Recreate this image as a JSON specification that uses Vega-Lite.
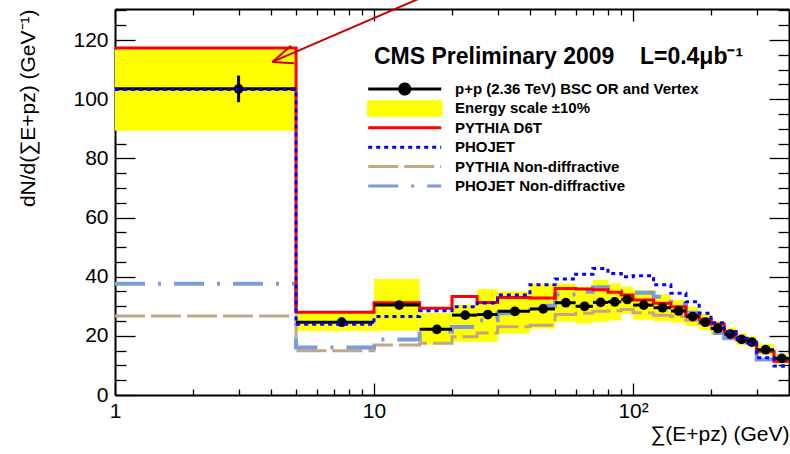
{
  "$schema": "https://vega.github.io/schema/vega-lite/v6.json",
  "width": 674,
  "height": 386,
  "autosize": {"type": "none"},
  "padding": {"left": 115, "top": 9, "right": 1, "bottom": 59},
  "background": "white",
  "config": {
    "font": "Liberation Sans",
    "view": {"stroke": null},
    "axis": {
      "grid": false,
      "domainColor": "black",
      "domainWidth": 2,
      "tickColor": "black",
      "tickWidth": 1.3,
      "labelColor": "black",
      "titleColor": "black",
      "labelFont": "Liberation Sans",
      "titleFont": "Liberation Sans",
      "titleFontWeight": "normal",
      "labelOverlap": false,
      "labelFlush": false,
      "zindex": 1
    }
  },
  "datasets": {
    "hist": [
      {"bin": 1, "x0": 1, "x1": 5, "center": 3, "data": 103.5, "err": 4.5, "band_lo": 89.3, "band_hi": 116.8, "pythia_d6t": 117.3, "phojet": 103.3, "pythia_nd": 26.7, "phojet_nd": 37.6},
      {"bin": 2, "x0": 5, "x1": 10, "center": 7.5, "data": 24.6, "err": 1.0, "band_lo": 21.6, "band_hi": 27.8, "pythia_d6t": 28.0, "phojet": 23.9, "pythia_nd": 15.0, "phojet_nd": 16.1},
      {"bin": 3, "x0": 10, "x1": 15, "center": 12.5, "data": 30.4, "err": 1.3, "band_lo": 21.7, "band_hi": 39.2, "pythia_d6t": 31.2, "phojet": 26.5, "pythia_nd": 16.9, "phojet_nd": 18.8},
      {"bin": 4, "x0": 15, "x1": 20, "center": 17.5, "data": 22.2, "err": 1.0, "band_lo": 17.1, "band_hi": 27.7, "pythia_d6t": 29.3, "phojet": 28.5, "pythia_nd": 17.5, "phojet_nd": 21.5},
      {"bin": 5, "x0": 20, "x1": 25, "center": 22.5, "data": 27.0, "err": 1.0, "band_lo": 18.0, "band_hi": 30.5, "pythia_d6t": 33.3, "phojet": 29.8, "pythia_nd": 19.7, "phojet_nd": 23.0},
      {"bin": 6, "x0": 25, "x1": 30, "center": 27.5, "data": 27.2, "err": 1.0, "band_lo": 18.0, "band_hi": 35.8, "pythia_d6t": 31.3, "phojet": 31.1, "pythia_nd": 21.0, "phojet_nd": 25.3},
      {"bin": 7, "x0": 30, "x1": 40, "center": 35, "data": 28.3, "err": 0.8, "band_lo": 20.8, "band_hi": 35.0, "pythia_d6t": 33.0, "phojet": 33.8, "pythia_nd": 23.1, "phojet_nd": 27.6},
      {"bin": 8, "x0": 40, "x1": 50, "center": 45, "data": 29.1, "err": 0.8, "band_lo": 22.5, "band_hi": 37.5, "pythia_d6t": 32.8, "phojet": 37.3, "pythia_nd": 23.6, "phojet_nd": 30.2},
      {"bin": 9, "x0": 50, "x1": 60, "center": 55, "data": 31.2, "err": 0.8, "band_lo": 24.8, "band_hi": 37.7, "pythia_d6t": 36.0, "phojet": 39.2, "pythia_nd": 27.2, "phojet_nd": 34.0},
      {"bin": 10, "x0": 60, "x1": 70, "center": 65, "data": 30.0, "err": 0.8, "band_lo": 24.2, "band_hi": 36.6, "pythia_d6t": 35.8, "phojet": 40.8, "pythia_nd": 27.6, "phojet_nd": 34.9},
      {"bin": 11, "x0": 70, "x1": 80, "center": 75, "data": 31.3, "err": 0.8, "band_lo": 24.8, "band_hi": 38.9, "pythia_d6t": 35.6, "phojet": 42.8, "pythia_nd": 28.3, "phojet_nd": 36.4},
      {"bin": 12, "x0": 80, "x1": 90, "center": 85, "data": 31.5, "err": 0.8, "band_lo": 25.2, "band_hi": 37.7, "pythia_d6t": 34.7, "phojet": 41.1, "pythia_nd": 28.5, "phojet_nd": 35.2},
      {"bin": 13, "x0": 90, "x1": 100, "center": 95, "data": 32.3, "err": 0.8, "band_lo": 27.4, "band_hi": 36.6, "pythia_d6t": 33.8, "phojet": 40.0, "pythia_nd": 28.9, "phojet_nd": 34.6},
      {"bin": 14, "x0": 100, "x1": 120, "center": 110, "data": 30.4, "err": 0.7, "band_lo": 25.5, "band_hi": 35.5, "pythia_d6t": 32.1, "phojet": 40.3, "pythia_nd": 27.8, "phojet_nd": 34.6},
      {"bin": 15, "x0": 120, "x1": 140, "center": 130, "data": 29.5, "err": 0.7, "band_lo": 25.0, "band_hi": 34.0, "pythia_d6t": 31.0, "phojet": 37.3, "pythia_nd": 27.0, "phojet_nd": 33.2},
      {"bin": 16, "x0": 140, "x1": 160, "center": 150, "data": 28.4, "err": 0.7, "band_lo": 24.5, "band_hi": 32.0, "pythia_d6t": 29.8, "phojet": 34.4, "pythia_nd": 26.5, "phojet_nd": 30.8},
      {"bin": 17, "x0": 160, "x1": 180, "center": 170, "data": 26.5, "err": 0.7, "band_lo": 23.3, "band_hi": 29.8, "pythia_d6t": 26.9, "phojet": 31.5, "pythia_nd": 25.3, "phojet_nd": 27.8},
      {"bin": 18, "x0": 180, "x1": 200, "center": 190, "data": 24.6, "err": 0.6, "band_lo": 22.0, "band_hi": 27.5, "pythia_d6t": 25.6, "phojet": 27.6, "pythia_nd": 24.2, "phojet_nd": 25.3},
      {"bin": 19, "x0": 200, "x1": 225, "center": 212.5, "data": 22.5, "err": 0.6, "band_lo": 20.3, "band_hi": 25.0, "pythia_d6t": 24.0, "phojet": 24.4, "pythia_nd": 22.5, "phojet_nd": 21.0},
      {"bin": 20, "x0": 225, "x1": 250, "center": 237.5, "data": 20.6, "err": 0.6, "band_lo": 18.6, "band_hi": 22.8, "pythia_d6t": 21.5, "phojet": 21.4, "pythia_nd": 20.8, "phojet_nd": 19.2},
      {"bin": 21, "x0": 250, "x1": 275, "center": 262.5, "data": 18.8, "err": 0.6, "band_lo": 17.0, "band_hi": 20.8, "pythia_d6t": 19.2, "phojet": 19.1, "pythia_nd": 18.6, "phojet_nd": 17.6},
      {"bin": 22, "x0": 275, "x1": 300, "center": 287.5, "data": 17.9, "err": 0.6, "band_lo": 16.2, "band_hi": 19.8, "pythia_d6t": 17.8, "phojet": 17.5, "pythia_nd": 17.5, "phojet_nd": 16.5},
      {"bin": 23, "x0": 300, "x1": 350, "center": 325, "data": 15.3, "err": 0.5, "band_lo": 13.6, "band_hi": 17.2, "pythia_d6t": 14.8, "phojet": 12.6, "pythia_nd": 14.6, "phojet_nd": 12.0},
      {"bin": 24, "x0": 350, "x1": 400, "center": 375, "data": 12.4, "err": 0.5, "band_lo": 10.6, "band_hi": 13.8, "pythia_d6t": 11.4, "phojet": 9.8, "pythia_nd": 11.3, "phojet_nd": 9.8}
    ],
    "arrow": [
      {"x": 4.05, "y": 112.6, "x_end": 17.7, "y_end": 136.8},
      {"x": 4.05, "y": 112.6, "x_end": 4.78, "y_end": 118.1},
      {"x": 4.05, "y": 112.6, "x_end": 4.91, "y_end": 112.2}
    ]
  },
  "layer": [
    {
      "data": {"name": "hist"},
      "mark": {"type": "rect"},
      "encoding": {
        "x": {
          "field": "x0", "type": "quantitative",
          "scale": {"type": "log", "domain": [1, 400], "nice": false},
          "axis": {
            "orient": "bottom",
            "values": [1, 2, 3, 4, 5, 6, 7, 8, 9, 10, 20, 30, 40, 50, 60, 70, 80, 90, 100, 200, 300],
            "labelExpr": "datum.value === 1 ? '1' : datum.value === 10 ? '10' : datum.value === 100 ? '10²' : ''",
            "tickSize": {"condition": {"test": "datum.value === 1 || datum.value === 10 || datum.value === 100", "value": -12}, "value": -6},
            "labelFontSize": 21,
            "labelPadding": 17,
            "title": "∑(E+pz) (GeV)",
            "titleFontSize": 21,
            "titleAnchor": "end",
            "titlePadding": -4
          }
        },
        "x2": {"field": "x1"},
        "y": {
          "field": "band_lo", "type": "quantitative",
          "scale": {"domain": [0, 130.5], "nice": false, "zero": false},
          "axis": {
            "orient": "left",
            "values": [0, 5, 10, 15, 20, 25, 30, 35, 40, 45, 50, 55, 60, 65, 70, 75, 80, 85, 90, 95, 100, 105, 110, 115, 120, 125, 130],
            "labelExpr": "datum.value % 20 === 0 ? format(datum.value, 'd') : ''",
            "tickSize": {"condition": {"test": "datum.value % 20 === 0", "value": -20}, "value": -11},
            "labelFontSize": 21,
            "labelPadding": 27,
            "title": "dN/d(∑E+pz) (GeV⁻¹)",
            "titleFontSize": 21,
            "titleAnchor": "end",
            "titlePadding": 34
          }
        },
        "y2": {"field": "band_hi"},
        "color": {
          "datum": "Energy scale ±10%",
          "type": "nominal",
          "scale": {
            "domain": ["p+p (2.36 TeV) BSC OR and Vertex", "Energy scale ±10%", "PYTHIA D6T", "PHOJET", "PYTHIA Non-diffractive", "PHOJET Non-diffractive"],
            "range": ["#000000", "#ffff00", "#ff0000", "#0000ff", "#c2a685", "#7b9cd8"]
          },
          "legend": {
            "orient": "none",
            "legendX": 259,
            "legendY": 37,
            "direction": "vertical",
            "gridAlign": "all",
            "title": "CMS Preliminary 2009\u00a0\u00a0\u00a0\u00a0L=0.4μb⁻¹",
            "titleFontSize": 23,
            "titleFontWeight": "bold",
            "titleColor": "black",
            "titlePadding": 12.5,
            "titleLimit": 600,
            "labelFontSize": 15,
            "labelFontWeight": "bold",
            "labelColor": "black",
            "labelOffset": 66,
            "labelLimit": 400,
            "symbolSize": 196,
            "symbolStrokeWidth": 3,
            "symbolType": "M-1.9,0H8.53",
            "rowPadding": 2.4,
            "encode": {
              "symbols": {
                "update": {
                  "shape": {"signal": "datum.value === 'p+p (2.36 TeV) BSC OR and Vertex' ? 'M-1.9,0H8.53M2.6,0A0.72,0.72 0 1,0 4.04,0A0.72,0.72 0 1,0 2.6,0' : datum.value === 'Energy scale ±10%' ? 'M-1.9,-1H8.53V1H-1.9Z' : 'M-1.9,0H8.53'"},
                  "fill": {"signal": "datum.value === 'p+p (2.36 TeV) BSC OR and Vertex' ? '#000000' : datum.value === 'Energy scale ±10%' ? '#ffff00' : 'transparent'"},
                  "stroke": {"signal": "datum.value === 'PYTHIA D6T' ? '#ff0000' : datum.value === 'PHOJET' ? '#0000ff' : datum.value === 'PYTHIA Non-diffractive' ? '#c2a685' : datum.value === 'PHOJET Non-diffractive' ? '#7b9cd8' : '#000000'"},
                  "strokeDash": {"signal": "datum.value === 'PHOJET' ? [4, 4] : datum.value === 'PYTHIA Non-diffractive' ? [30, 6] : datum.value === 'PHOJET Non-diffractive' ? [30, 13, 3, 13] : [1, 0]"},
                  "strokeWidth": {"signal": "datum.value === 'Energy scale ±10%' ? 2.5 : 3"},
                  "strokeJoin": {"value": "bevel"},
                  "opacity": {"value": 1},
                  "fillOpacity": {"value": 1},
                  "strokeOpacity": {"value": 1}
                }
              }
            }
          }
        }
      }
    },
    {
      "data": {"name": "hist"},
      "transform": [{"fold": ["x0", "x1"], "as": ["edge", "xe"]}],
      "mark": {"type": "line", "strokeWidth": 3, "strokeDash": [30, 6], "strokeCap": "butt"},
      "encoding": {
        "x": {"field": "xe", "type": "quantitative", "scale": {"type": "log", "domain": [1, 400], "nice": false}, "axis": null},
        "y": {"field": "pythia_nd", "type": "quantitative", "scale": {"domain": [0, 130.5], "nice": false, "zero": false}, "axis": null},
        "order": [{"field": "bin", "type": "quantitative"}, {"field": "edge", "type": "ordinal"}],
        "color": {"datum": "PYTHIA Non-diffractive", "type": "nominal"}
      }
    },
    {
      "data": {"name": "hist"},
      "transform": [{"fold": ["x0", "x1"], "as": ["edge", "xe"]}],
      "mark": {"type": "line", "strokeWidth": 4, "strokeDash": [30, 13, 3, 13], "strokeCap": "butt"},
      "encoding": {
        "x": {"field": "xe", "type": "quantitative", "scale": {"type": "log", "domain": [1, 400], "nice": false}, "axis": null},
        "y": {"field": "phojet_nd", "type": "quantitative", "scale": {"domain": [0, 130.5], "nice": false, "zero": false}, "axis": null},
        "order": [{"field": "bin", "type": "quantitative"}, {"field": "edge", "type": "ordinal"}],
        "color": {"datum": "PHOJET Non-diffractive", "type": "nominal"}
      }
    },
    {
      "data": {"name": "hist"},
      "transform": [{"fold": ["x0", "x1"], "as": ["edge", "xe"]}],
      "mark": {"type": "line", "strokeWidth": 3, "strokeCap": "butt"},
      "encoding": {
        "x": {"field": "xe", "type": "quantitative", "scale": {"type": "log", "domain": [1, 400], "nice": false}, "axis": null},
        "y": {"field": "pythia_d6t", "type": "quantitative", "scale": {"domain": [0, 130.5], "nice": false, "zero": false}, "axis": null},
        "order": [{"field": "bin", "type": "quantitative"}, {"field": "edge", "type": "ordinal"}],
        "color": {"datum": "PYTHIA D6T", "type": "nominal"}
      }
    },
    {
      "data": {"name": "hist"},
      "mark": {"type": "rule", "strokeWidth": 3},
      "encoding": {
        "x": {"field": "x0", "type": "quantitative", "scale": {"type": "log", "domain": [1, 400], "nice": false}, "axis": null},
        "x2": {"field": "x1"},
        "y": {"field": "data", "type": "quantitative", "scale": {"domain": [0, 130.5], "nice": false, "zero": false}, "axis": null},
        "color": {"datum": "p+p (2.36 TeV) BSC OR and Vertex", "type": "nominal"}
      }
    },
    {
      "data": {"name": "hist"},
      "mark": {"type": "errorbar", "ticks": false, "thickness": 3, "color": "black"},
      "encoding": {
        "x": {"field": "center", "type": "quantitative", "scale": {"type": "log", "domain": [1, 400], "nice": false}, "axis": null},
        "y": {"field": "data", "type": "quantitative", "scale": {"domain": [0, 130.5], "nice": false, "zero": false}, "axis": null},
        "yError": {"field": "err"}
      }
    },
    {
      "data": {"name": "hist"},
      "mark": {"type": "point", "filled": true, "size": 95, "color": "black", "opacity": 1},
      "encoding": {
        "x": {"field": "center", "type": "quantitative", "scale": {"type": "log", "domain": [1, 400], "nice": false}, "axis": null},
        "y": {"field": "data", "type": "quantitative", "scale": {"domain": [0, 130.5], "nice": false, "zero": false}, "axis": null}
      }
    },
    {
      "data": {"name": "hist"},
      "transform": [{"fold": ["x0", "x1"], "as": ["edge", "xe"]}],
      "mark": {"type": "line", "strokeWidth": 3, "strokeDash": [4, 4], "strokeCap": "butt"},
      "encoding": {
        "x": {"field": "xe", "type": "quantitative", "scale": {"type": "log", "domain": [1, 400], "nice": false}, "axis": null},
        "y": {"field": "phojet", "type": "quantitative", "scale": {"domain": [0, 130.5], "nice": false, "zero": false}, "axis": null},
        "order": [{"field": "bin", "type": "quantitative"}, {"field": "edge", "type": "ordinal"}],
        "color": {"datum": "PHOJET", "type": "nominal"}
      }
    },
    {
      "data": {"name": "arrow"},
      "mark": {"type": "rule", "color": "#c80000", "strokeWidth": 2, "clip": false},
      "encoding": {
        "x": {
          "field": "x", "type": "quantitative",
          "scale": {"type": "log", "domain": [1, 400], "nice": false},
          "axis": {
            "orient": "top",
            "values": [1, 2, 3, 4, 5, 6, 7, 8, 9, 10, 20, 30, 40, 50, 60, 70, 80, 90, 100, 200, 300],
            "labels": false,
            "title": null,
            "tickSize": {"condition": {"test": "datum.value === 1 || datum.value === 10 || datum.value === 100", "value": -12}, "value": -6}
          }
        },
        "x2": {"field": "x_end"},
        "y": {
          "field": "y", "type": "quantitative",
          "scale": {"domain": [0, 130.5], "nice": false, "zero": false},
          "axis": {
            "orient": "right",
            "values": [0, 5, 10, 15, 20, 25, 30, 35, 40, 45, 50, 55, 60, 65, 70, 75, 80, 85, 90, 95, 100, 105, 110, 115, 120, 125, 130],
            "labels": false,
            "title": null,
            "tickSize": {"condition": {"test": "datum.value % 20 === 0", "value": -20}, "value": -11}
          }
        },
        "y2": {"field": "y_end"}
      }
    }
  ],
  "resolve": {"axis": {"x": "independent", "y": "independent"}}
}
